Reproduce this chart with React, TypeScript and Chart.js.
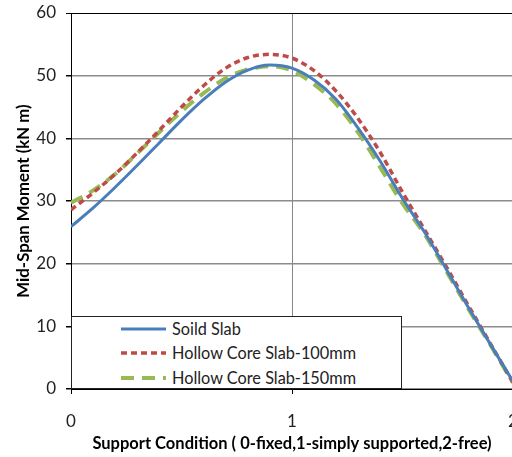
import React, { useEffect, useRef } from "react";
import { Chart, registerables } from "chart.js";

Chart.register(...registerables);

const xValues = [0, 0.1, 0.2, 0.3, 0.4, 0.5, 0.6, 0.7, 0.8, 0.9, 1.0, 1.1, 1.2, 1.3, 1.4, 1.5, 1.6, 1.7, 1.8, 1.9, 2.0];
const solidSlab = [25.9, 28.9, 32.2, 35.7, 39.3, 42.9, 46.2, 49.0, 50.9, 51.7, 51.2, 49.3, 46.2, 41.6, 36.3, 30.4, 25.0, 19.0, 12.9, 7.0, 1.2];
const hollow100 = [28.6, 31.3, 34.3, 37.7, 41.3, 45.0, 48.4, 51.2, 52.9, 53.4, 52.8, 50.8, 47.5, 43.1, 37.7, 31.4, 25.4, 19.4, 13.2, 7.1, 1.0];
const hollow150 = [29.7, 31.7, 34.3, 37.6, 41.0, 44.3, 47.2, 49.6, 51.0, 51.5, 50.8, 48.6, 45.5, 40.9, 35.3, 29.6, 24.7, 18.7, 12.7, 6.9, 1.0];
const seriesLabels = ["Soild Slab", "Hollow Core Slab-100mm", "Hollow Core Slab-150mm"];
const xTitle = "Support Condition ( 0-fixed,1-simply supported,2-free)";
const yTitle = "Mid-Span Moment (kN m)";

const colors = ["#4A7EBB", "#BE4B48", "#98B954"];
const dashes: number[][] = [[], [6, 4], [13, 8]];
const widths = [3, 3.5, 4];

const FONT = "Lato, 'Open Sans', sans-serif";

export default function App() {
  const ref = useRef<HTMLCanvasElement | null>(null);
  useEffect(() => {
    if (!ref.current) return;
    const series = [solidSlab, hollow100, hollow150];
    const chart = new Chart(ref.current, {
      type: "line",
      data: {
        datasets: series.map((s, i) => ({
          label: seriesLabels[i],
          data: s.map((v, j) => ({ x: xValues[j], y: v })),
          borderColor: colors[i],
          backgroundColor: colors[i],
          borderWidth: widths[i],
          borderDash: dashes[i],
          pointRadius: 0,
          cubicInterpolationMode: "monotone" as const,
          fill: false,
        })),
      },
      options: {
        animation: false,
        responsive: false,
        devicePixelRatio: 1,
        layout: { padding: { top: 0, right: 27, left: 0, bottom: 0 } },
        plugins: { legend: { display: false }, tooltip: { enabled: false } },
        scales: {
          x: {
            type: "linear",
            min: 0,
            max: 2,
            ticks: { stepSize: 1, color: "#222", font: { family: FONT, size: 17 }, padding: 17 },
            grid: {
              color: (c: any) => (c.tick && c.tick.value === 1 ? "#878787" : "#000"),
              lineWidth: 1,
              tickLength: 5,
              tickColor: "#000",
            },
            border: { color: "#000", width: 1 },
            title: {
              display: true,
              text: xTitle,
              color: "#000",
              font: { family: FONT, size: 16.5, weight: "bold" },
              padding: { top: 0, bottom: 3 },
            },
            afterFit: (scale: any) => {
              scale.height = 68;
            },
          },
          y: {
            type: "linear",
            min: 0,
            max: 60,
            ticks: { stepSize: 10, color: "#222", font: { family: FONT, size: 17 }, padding: 10 },
            grid: {
              color: (c: any) => (c.tick && c.tick.value === 60 ? "#000" : "#8c8c8c"),
              lineWidth: (c: any) => (c.tick && c.tick.value === 60 ? 1 : 1.5),
              tickLength: 5,
              tickColor: "#000",
            },
            border: { color: "#000", width: 1 },
            title: {
              display: true,
              text: yTitle,
              color: "#000",
              font: { family: FONT, size: 16.8, weight: "bold" },
              padding: { top: 14, bottom: 0 },
            },
            afterFit: (scale: any) => {
              scale.width = 71;
              scale.paddingTop = 13;
              scale.paddingBottom = 0;
            },
          },
        },
      },
    });
    return () => chart.destroy();
  }, []);

  const rowY = [329, 353, 378];
  return (
    <div style={{ position: "fixed", left: 0, top: 0, width: 512, height: 457, overflow: "hidden", background: "#fff" }}>
      <canvas ref={ref} width={540} height={457} style={{ position: "absolute", left: 0, top: 0, width: 540, height: 457 }} />
      <div
        style={{
          position: "absolute",
          left: 71,
          top: 316,
          width: 331,
          height: 73,
          background: "#fff",
          border: "1px solid #222",
          boxSizing: "border-box",
        }}
      />
      <svg width={512} height={457} style={{ position: "absolute", left: 0, top: 0, pointerEvents: "none" }}>
        {seriesLabels.map((l, i) => (
          <line
            key={"l" + i}
            x1={121}
            x2={166}
            y1={rowY[i]}
            y2={rowY[i]}
            stroke={colors[i]}
            strokeWidth={widths[i]}
            strokeDasharray={dashes[i].length ? dashes[i].join(" ") : undefined}
          />
        ))}
      </svg>
      {seriesLabels.map((l, i) => (
        <div
          key={"t" + i}
          style={{
            position: "absolute",
            left: 172,
            top: rowY[i] - 11,
            height: 22,
            lineHeight: "22px",
            fontFamily: FONT,
            fontSize: 16.3,
            color: "#222",
            whiteSpace: "nowrap",
          }}
        >
          {l}
        </div>
      ))}
    </div>
  );
}
